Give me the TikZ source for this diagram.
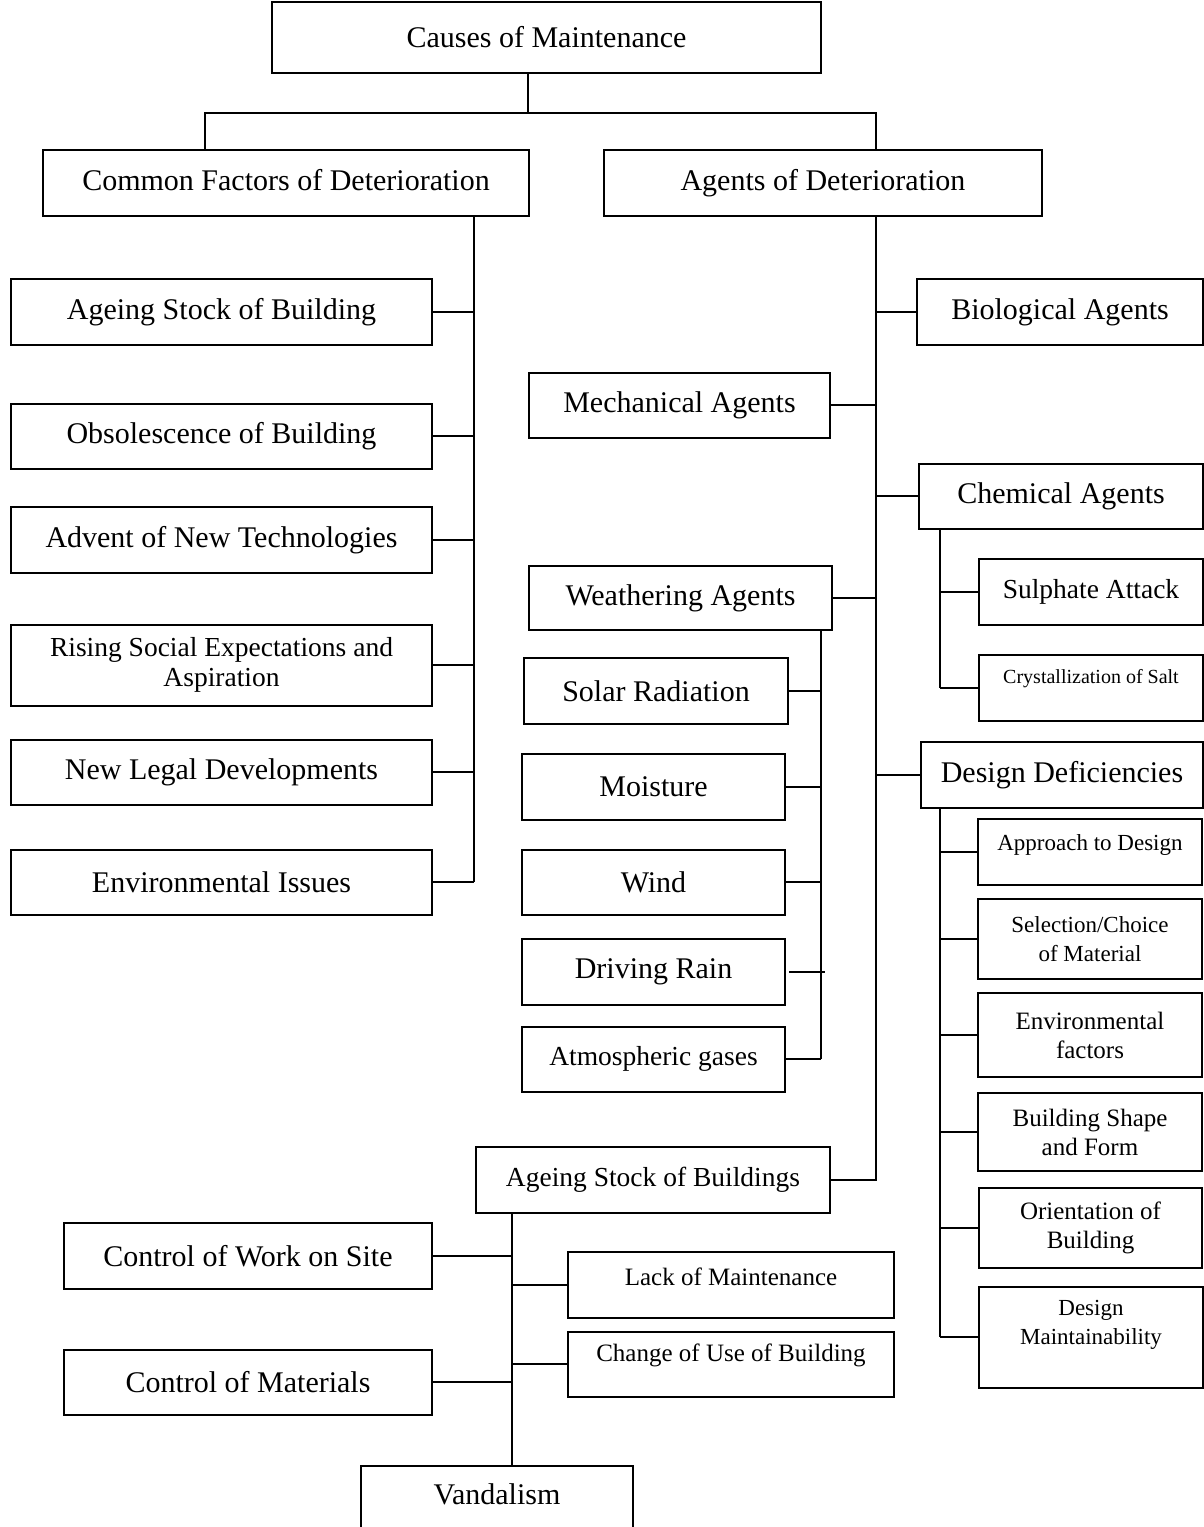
\documentclass[tikz,border=0pt]{standalone}
\usepackage{fontspec}
\setmainfont{Liberation Serif}

\begin{document}
\begin{tikzpicture}[x=1pt,y=-1pt,
  box/.style={draw, line width=2pt, inner sep=0pt, align=center},
  big/.style={font=\fontsize{30}{36}\selectfont},
  mid/.style={font=\fontsize{27.5}{30}\selectfont},
  small/.style={font=\fontsize{25}{29}\selectfont},
  smaller/.style={font=\fontsize{23}{29}\selectfont},
  tiny/.style={font=\fontsize{20}{24}\selectfont},
  link/.style={line width=2pt}]
\useasboundingbox (0,0) rectangle (1204,1527);

% top level
\node[box,big,minimum width=549pt,minimum height=71pt] (causes) at (546.5,37.5) {Causes of Maintenance};
\node[box,big,minimum width=486pt,minimum height=66pt,text depth=6pt] (common) at (286,183) {Common Factors of Deterioration};
\node[box,big,minimum width=438pt,minimum height=66pt] (agents) at (823,183) {Agents of Deterioration};

% common factors
\node[box,big,minimum width=421pt,minimum height=66pt] (ageing) at (221.5,312) {Ageing Stock of Building};
\node[box,big,minimum width=421pt,minimum height=65pt] (obsol) at (221.5,436) {Obsolescence of Building};
\node[box,big,minimum width=421pt,minimum height=66pt] (advent) at (221.5,540) {Advent of New Technologies};
\node[box,mid,minimum width=421pt,minimum height=81pt] (rising) at (221.5,665) {Rising Social Expectations and\\Aspiration};
\node[box,big,minimum width=421pt,minimum height=65pt] (legal) at (221.5,772) {New Legal Developments};
\node[box,big,minimum width=421pt,minimum height=65pt] (envir) at (221.5,882) {Environmental Issues};

% agents
\node[box,big,minimum width=286pt,minimum height=66pt] (bio) at (1060,312) {Biological Agents};
\node[box,big,minimum width=301pt,minimum height=65pt] (mech) at (679.5,405) {Mechanical Agents};
\node[box,big,minimum width=284pt,minimum height=65pt] (chem) at (1061,496) {Chemical Agents};
\node[box,mid,minimum width=224pt,minimum height=66pt] (sulph) at (1091,592) {Sulphate Attack};
\node[box,tiny,minimum width=224pt,minimum height=66pt,text depth=24pt] (cryst) at (1091,688) {Crystallization of Salt};
\node[box,big,minimum width=303pt,minimum height=64pt] (weather) at (680.5,598) {Weathering Agents};
\node[box,big,minimum width=264pt,minimum height=66pt] (solar) at (656,691) {Solar Radiation};
\node[box,big,minimum width=263pt,minimum height=66pt] (moist) at (653.5,787) {Moisture};
\node[box,big,minimum width=263pt,minimum height=65pt] (wind) at (653.5,882) {Wind};
\node[box,big,minimum width=263pt,minimum height=66pt] (rain) at (653.5,972) {Driving Rain};
\node[box,mid,minimum width=263pt,minimum height=65pt] (gases) at (653.5,1059) {Atmospheric gases};

% design deficiencies
\node[box,big,minimum width=282pt,minimum height=66pt] (design) at (1062,775) {Design Deficiencies};
\node[box,smaller,minimum width=224pt,minimum height=66pt,text depth=19pt] (approach) at (1090,852) {Approach to Design};
\node[box,smaller,minimum width=224pt,minimum height=80pt] (select) at (1090,939) {Selection/Choice\\of Material};
\node[box,small,minimum width=224pt,minimum height=84pt] (envfac) at (1090,1035) {Environmental\\factors};
\node[box,small,minimum width=224pt,minimum height=78pt] (shape) at (1090,1132) {Building Shape\\and Form};
\node[box,small,minimum width=223pt,minimum height=80pt] (orient) at (1090.5,1228) {Orientation of\\Building};
\node[box,smaller,minimum width=224pt,minimum height=101pt,text depth=30pt] (dmaint) at (1091,1337) {Design\\Maintainability};

% ageing stock of buildings
\node[box,mid,minimum width=354pt,minimum height=66pt] (stock) at (653,1180) {Ageing Stock of Buildings};
\node[box,big,minimum width=368pt,minimum height=66pt] (ctrlwork) at (248,1256) {Control of Work on Site};
\node[box,small,minimum width=326pt,minimum height=66pt,text depth=16pt] (lack) at (731,1285) {Lack of Maintenance};
\node[box,small,minimum width=326pt,minimum height=65pt,text depth=22pt] (change) at (731,1364) {Change of Use of Building};
\node[box,big,minimum width=368pt,minimum height=65pt] (ctrlmat) at (248,1382) {Control of Materials};
\node[box,big,minimum width=272pt,minimum height=68pt,text depth=12pt] (vandal) at (497,1500) {Vandalism};

% bus lines
\coordinate (tj) at (528,113);
\coordinate (tl) at (205,113);
\coordinate (tr) at (876,113);
\coordinate (lbus) at (474,216);
\coordinate (rbus) at (876,216);
\coordinate (cbus) at (940,0);
\coordinate (wbus) at (821,0);
\coordinate (abus) at (512,0);

\draw[link] (causes.south -| tj) -- (tj);
\draw[link] (tl |- common.north) -- (tl) -- (tr) -- (tr |- agents.north);

\draw[link] (common.south -| lbus) -- (lbus |- envir.east);
\foreach \n in {ageing,obsol,advent,rising,legal,envir}
  \draw[link] (\n.east) -- (\n.east -| lbus);

\draw[link] (agents.south -| rbus) -- (rbus |- stock.east) -- (stock.east);
\foreach \n in {bio,chem,design}
  \draw[link] (\n.west) -- (\n.west -| rbus);
\foreach \n in {mech,weather}
  \draw[link] (\n.east) -- (\n.east -| rbus);

\draw[link] (chem.south -| cbus) -- (cbus |- cryst.west);
\foreach \n in {sulph,cryst}
  \draw[link] (\n.west) -- (\n.west -| cbus);

\draw[link] (design.south -| cbus) -- (cbus |- dmaint.west);
\foreach \n in {approach,select,envfac,shape,orient,dmaint}
  \draw[link] (\n.west) -- (\n.west -| cbus);

\draw[link] (weather.south -| wbus) -- (wbus |- gases.east);
\foreach \n in {solar,moist,wind,gases}
  \draw[link] (\n.east) -- (\n.east -| wbus);
\draw[link] ([xshift=3pt]rain.east) -- ([xshift=4pt]rain.east -| wbus);

\draw[link] (stock.south -| abus) -- (abus |- vandal.north);
\foreach \n in {ctrlwork,ctrlmat}
  \draw[link] (\n.east) -- (\n.east -| abus);
\foreach \n in {lack,change}
  \draw[link] (\n.west) -- (\n.west -| abus);
\end{tikzpicture}
\end{document}
